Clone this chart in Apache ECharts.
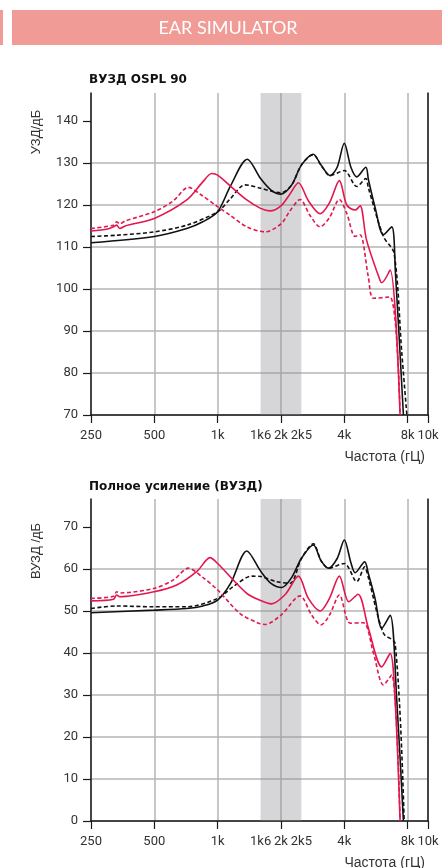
<!DOCTYPE html>
<html>
<head>
<meta charset="utf-8">
<script src="https://cdn.jsdelivr.net/npm/echarts@6/dist/echarts.min.js"></script>
<style>
  html, body { margin: 0; padding: 0; background: #fff; }
  #chart { width: 442px; height: 868px; }
</style>
</head>
<body>
<div id="chart"></div>
<script>
// оси
const tickFreqs = [250, 500, 1000, 2000, 4000, 8000, 10000]
const labelFreqs = [250, 500, 1000, 1600, 2000, 2500, 4000, 8000, 10000]
const labelTexts = ['250', '500', '1k', '1k6', '2k', '2k5', '4k', '8k', '10k']
const bandFreqs = [1600, 2500]
const osplTicks = [70, 80, 90, 100, 110, 120, 130, 140]
const gainTicks = [0, 10, 20, 30, 40, 50, 60, 70]

// ВУЗД OSPL 90 — [частота, дБ]
const osplBlack = [
  [250, 111.0], [500, 112.5], [713, 114.4], [850, 116.0], [1000, 118.4], [1150, 124.5],
  [1384, 130.9], [1600, 126.3], [1800, 123.5], [2000, 122.6], [2250, 124.8], [2500, 129.5],
  [2850, 132.1], [3100, 129.5], [3425, 127.0], [3700, 129.0], [4000, 134.7], [4300, 129.0],
  [4586, 126.7], [5063, 129.0], [5210, 126.0], [5600, 119.5], [6140, 112.9], [6727, 114.8],
  [7000, 104.0], [7640, 70]
]
const osplBlackDash = [
  [250, 112.5], [330, 112.8], [500, 113.6], [713, 115.2], [1000, 118.4], [1150, 121.5],
  [1350, 124.8], [1600, 124.0], [1800, 123.3], [2000, 122.9], [2250, 124.8], [2500, 129.5],
  [2850, 132.0], [3100, 129.5], [3425, 127.0], [4000, 128.2], [4586, 124.4], [5063, 126.3],
  [5210, 124.0], [6140, 112.5], [6900, 108.5], [7500, 85.0], [7935, 70]
]
const osplRed = [
  [250, 113.8], [300, 114.3], [320, 114.8], [331, 115.2], [343, 114.4], [363, 115.0],
  [500, 116.8], [713, 121.2], [850, 125.5], [937, 127.5], [1000, 127.1], [1150, 124.5],
  [1376, 121.2], [1600, 119.2], [1775, 118.6], [2000, 119.8], [2200, 122.5], [2420, 125.3],
  [2700, 121.0], [3069, 117.9], [3400, 120.5], [3790, 125.8], [4110, 120.0], [4503, 118.8],
  [4756, 119.8], [5100, 111.7], [5920, 102.0], [6030, 101.5], [6607, 104.5], [7368, 70]
]
const osplRedDash = [
  [250, 114.4], [320, 115.2], [331, 116.0], [343, 115.5], [363, 116.2], [500, 118.4],
  [616, 121.0], [726, 124.2], [830, 122.5], [1000, 119.6], [1150, 117.5], [1376, 114.8],
  [1680, 113.6], [2000, 115.5], [2200, 118.5], [2466, 121.3], [2750, 117.5], [3069, 114.8],
  [3400, 117.0], [3790, 121.3], [4110, 118.0], [4503, 112.5], [4756, 112.9], [5200, 103.0],
  [5503, 97.8], [6600, 98.1], [7368, 70]
]

// Полное усиление (ВУЗД)
const gainBlack = [
  [250, 49.6], [500, 50.2], [713, 50.6], [850, 51.2], [1000, 52.6], [1150, 56.5],
  [1376, 64.3], [1600, 59.5], [1800, 56.5], [2018, 55.6], [2250, 58.0], [2500, 62.5],
  [2852, 65.7], [3100, 62.0], [3362, 60.2], [3700, 62.5], [4000, 66.9], [4300, 61.5],
  [4503, 59.1], [5000, 61.7], [5200, 59.0], [5600, 53.0], [6030, 45.9], [6607, 49.0],
  [7103, 28.8], [7640, 0]
]
const gainBlackDash = [
  [250, 50.6], [331, 51.2], [500, 51.0], [713, 51.0], [1000, 53.0], [1200, 56.0],
  [1453, 58.3], [1600, 58.2], [1900, 57.0], [2210, 56.6], [2500, 62.5], [2852, 66.0],
  [3100, 62.0], [3362, 60.2], [4000, 61.3], [4586, 57.0], [5000, 60.5], [5200, 58.0],
  [6140, 44.7], [6975, 42.3], [7700, 0]
]
const gainRed = [
  [250, 52.4], [320, 52.8], [331, 53.8], [343, 53.4], [500, 54.6], [639, 56.2],
  [800, 59.5], [920, 62.7], [1000, 61.3], [1376, 54.2], [1600, 52.5], [1800, 51.7],
  [2100, 54.0], [2420, 58.3], [2700, 53.0], [3069, 50.0], [3400, 53.0], [3790, 58.3],
  [4200, 52.2], [4650, 54.0], [5200, 46.0], [6030, 36.7], [6607, 39.9], [6975, 28.8],
  [7368, 0]
]
const gainRedDash = [
  [250, 53.0], [320, 53.5], [331, 54.6], [343, 54.3], [500, 55.4], [616, 57.4],
  [726, 60.2], [850, 58.0], [1000, 55.0], [1278, 49.4], [1562, 47.1], [1680, 46.8],
  [2000, 49.0], [2466, 53.6], [2800, 49.0], [3100, 46.7], [3400, 49.0], [3790, 53.8],
  [4264, 47.1], [4931, 47.2], [5503, 40.0], [6140, 32.4], [6727, 34.8], [7368, 0]
]

const RED = '#e3174d'
const BLACK = '#111111'
const AXIS = '#1a1a1a'
const GRIDLINE = '#b5b5b5'
const TICKFONT = 'Roboto, "Liberation Sans", sans-serif'
const SANS = '"Liberation Sans", Arial, sans-serif'
const TITLEFONT = '"DejaVu Sans", "Liberation Sans", sans-serif'

// частота -> октавы от 250 Гц
const U = f => Math.log2(f / 250)
const toXY = arr => arr.map(([f, v]) => [U(f), v])

function labelFor(v) {
  let best = 0
  labelFreqs.forEach((f, i) => {
    if (Math.abs(U(f) - v) < Math.abs(U(labelFreqs[best]) - v)) best = i
  })
  return labelTexts[best]
}

const GRID_LEFT = 91, GRID_W = 337, GRID_H = 322
const TOPS = [93, 499]
const PX_PER_DB = 4.2

function xAxisFor(i) {
  return {
    gridIndex: i, type: 'value', min: 0, max: U(10000), interval: 1,
    axisLine: { lineStyle: { color: AXIS, width: 1.5 } },
    axisTick: { show: true, length: 8, customValues: tickFreqs.map(U), lineStyle: { color: AXIS, width: 1.2 } },
    axisLabel: {
      customValues: labelFreqs.map(U), formatter: labelFor, hideOverlap: false,
      margin: 14, color: '#333', fontSize: 13, fontFamily: TICKFONT
    },
    splitLine: { show: true, lineStyle: { color: GRIDLINE, width: 1.5 } }
  }
}

function yAxisFor(i, min, ticks) {
  return {
    gridIndex: i, type: 'value', min, max: min + GRID_H / PX_PER_DB, interval: 10,
    axisLine: { show: true, lineStyle: { color: AXIS, width: 1.5 } },
    axisTick: { show: true, length: 8, customValues: ticks, lineStyle: { color: AXIS, width: 1.2 } },
    axisLabel: { customValues: ticks, margin: 13, color: '#333', fontSize: 13, fontFamily: TICKFONT },
    splitLine: { show: true, showMaxLine: false, lineStyle: { color: GRIDLINE, width: 1.5 } }
  }
}

// правая рамка на 10k
function rightBorder(i, min) {
  return {
    gridIndex: i, type: 'value', position: 'right', min, max: min + GRID_H / PX_PER_DB,
    axisLine: { show: true, lineStyle: { color: AXIS, width: 1.5 } },
    axisTick: { show: false }, axisLabel: { show: false }, splitLine: { show: false }
  }
}

function line(data, grid, yIdx, color, dashed, withBand) {
  const s = {
    type: 'line', xAxisIndex: grid, yAxisIndex: yIdx,
    data: toXY(data), smooth: 0.3, showSymbol: false, silent: true,
    lineStyle: { color, width: 1.6, type: dashed ? [4, 2.5] : 'solid' }
  }
  if (withBand) {
    s.markArea = {
      silent: true,
      itemStyle: { color: 'rgba(140,142,150,0.36)' },
      data: [[{ xAxis: U(bandFreqs[0]) }, { xAxis: U(bandFreqs[1]) }]]
    }
  }
  return s
}

const chart = echarts.init(document.getElementById('chart'))
chart.setOption({
  animation: false,
  title: [
    { text: 'ВУЗД OSPL 90', left: 89, top: 74, padding: 0,
      textStyle: { fontSize: 12, fontWeight: 'bold', color: '#111', fontFamily: TITLEFONT } },
    { text: 'Полное усиление (ВУЗД)', left: 89, top: 481, padding: 0,
      textStyle: { fontSize: 12, fontWeight: 'bold', color: '#111', fontFamily: TITLEFONT } }
  ],
  grid: TOPS.map(t => ({ left: GRID_LEFT, top: t, width: GRID_W, height: GRID_H })),
  xAxis: [xAxisFor(0), xAxisFor(1)],
  yAxis: [yAxisFor(0, 70, osplTicks), yAxisFor(1, 0, gainTicks), rightBorder(0, 70), rightBorder(1, 0)],
  series: [
    line(osplBlackDash, 0, 0, BLACK, true, true),
    line(osplBlack, 0, 0, BLACK, false),
    line(osplRedDash, 0, 0, RED, true),
    line(osplRed, 0, 0, RED, false),
    line(gainBlackDash, 1, 1, BLACK, true, true),
    line(gainBlack, 1, 1, BLACK, false),
    line(gainRedDash, 1, 1, RED, true),
    line(gainRed, 1, 1, RED, false)
  ],
  graphic: [
    { type: 'rect', shape: { x: 12, y: 10, width: 430, height: 35 }, style: { fill: '#f09b95' } },
    { type: 'rect', shape: { x: 0, y: 10, width: 3, height: 35 }, style: { fill: '#f09b95' } },
    { type: 'text', x: 228, y: 28, style: { text: 'EAR SIMULATOR', fill: '#fff', font: '18px Lato, "Open Sans", sans-serif', align: 'center', verticalAlign: 'middle' } },
    { type: 'text', x: 36, y: 132, rotation: Math.PI / 2, style: { text: 'УЗД/дБ', fill: '#333', font: '13px ' + SANS, align: 'center', verticalAlign: 'middle' } },
    { type: 'text', x: 36, y: 551, rotation: Math.PI / 2, style: { text: 'ВУЗД /дБ', fill: '#333', font: '13px ' + SANS, align: 'center', verticalAlign: 'middle' } },
    { type: 'text', x: 425, y: 457, style: { text: 'Частота (гЦ)', fill: '#333', font: '14px ' + SANS, align: 'right', verticalAlign: 'middle' } },
    { type: 'text', x: 425, y: 863, style: { text: 'Частота (гЦ)', fill: '#333', font: '14px ' + SANS, align: 'right', verticalAlign: 'middle' } }
  ]
})
</script>
</body>
</html>
